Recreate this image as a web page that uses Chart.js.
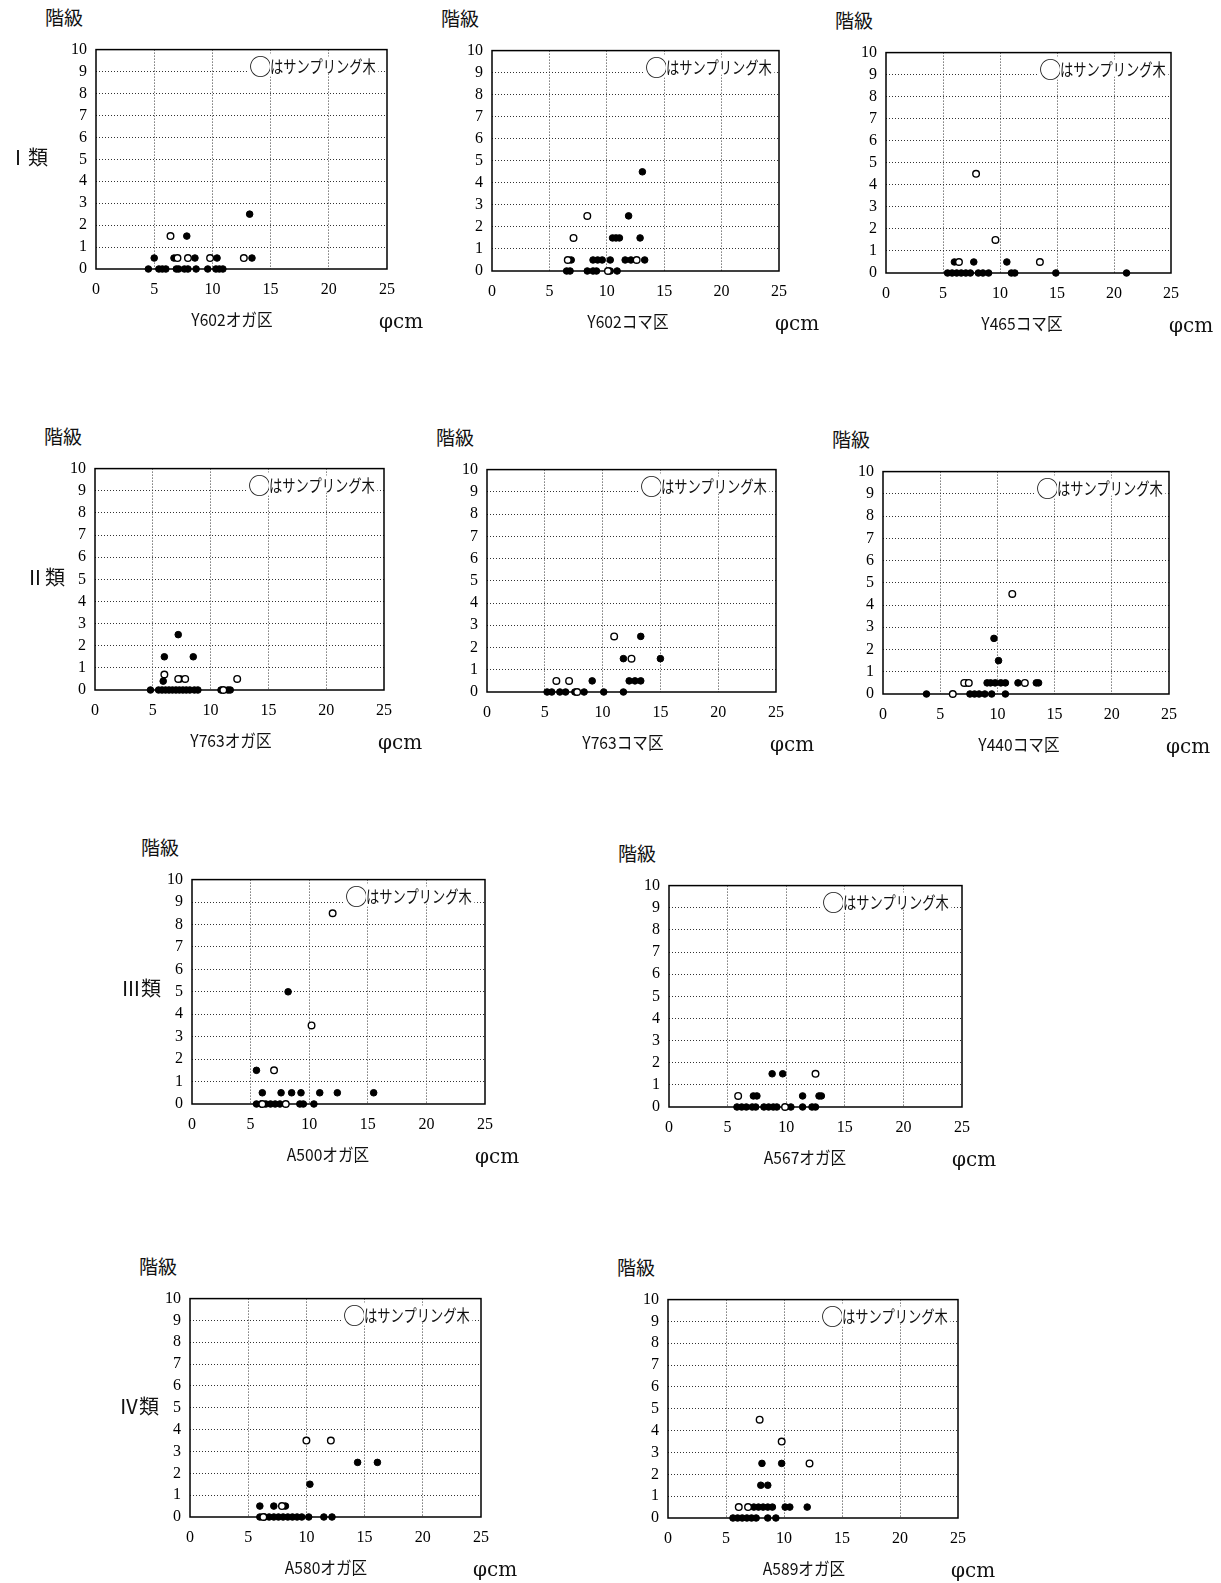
<!DOCTYPE html>
<html>
<head>
<meta charset="utf-8">
<script src="https://cdn.jsdelivr.net/npm/chart.js@4"></script>
<style>
  body { margin: 0; background: #fff; width: 1221px; height: 1583px; position: relative; overflow: hidden; }
  canvas { position: absolute; }
  .t { position: absolute; font-family: "Noto Sans CJK JP", sans-serif; color: #111; line-height: 1; white-space: nowrap; }
  .ring { background: #fff; font-size: 23px; transform: translateY(-50%); padding: 0 1px; }
  .lg { background: #fff; font-size: 17px; transform: translateY(-50%) scaleX(0.78); transform-origin: left center; padding: 0 3px 0 0; }
  .area { font-size: 17px; transform: translate(-50%, -50%) scaleX(0.92); }
  .phi { font-size: 20px; transform: translateY(-50%); font-family: "DejaVu Serif", serif; }
  .kai { font-size: 19px; }
  .cls { font-size: 20px; transform: translateY(-50%); font-family: "Noto Sans CJK JP", serif; }
</style>
</head>
<body>
<script>
// 階級 vs 直径, ● = 全木, ○ = サンプリング木
const xTicks = [0, 5, 10, 15, 20, 25];
const yTicks = [0, 1, 2, 3, 4, 5, 6, 7, 8, 9, 10];
const areaNames = ["Y602オガ区", "Y602コマ区", "Y465コマ区", "Y763オガ区", "Y763コマ区", "Y440コマ区", "A500オガ区", "A567オガ区", "A580オガ区", "A589オガ区"];
const classNames = ["Ⅰ類", "Ⅱ類", "Ⅲ類", "Ⅳ類"];

const y602oga = [[13.2,2.5],[7.8,1.5],[5.0,0.5],[6.7,0.5],[8.5,0.5],[10.4,0.5],[13.4,0.5],
  [4.5,0],[5.4,0],[5.7,0],[6.0,0],[6.9,0],[7.1,0],[7.6,0],[7.9,0],[8.6,0],[9.6,0],[10.3,0],[10.6,0],[10.9,0]];
const y602ogaS = [[6.4,1.5],[7.0,0.5],[7.9,0.5],[9.8,0.5],[12.7,0.5]];

const y602koma = [[13.1,4.5],[11.9,2.5],[10.5,1.5],[10.8,1.5],[11.1,1.5],[12.9,1.5],[6.9,0.5],[8.8,0.5],[9.2,0.5],[9.6,0.5],[10.3,0.5],[11.6,0.5],[12.1,0.5],[13.3,0.5],
  [6.5,0],[6.8,0],[8.3,0],[8.8,0],[9.1,0],[10.3,0],[10.9,0]];
const y602komaS = [[8.3,2.5],[7.1,1.5],[6.6,0.5],[12.6,0.5],[10.1,0]];

const y465koma = [[6.0,0.5],[7.7,0.5],[10.6,0.5],
  [5.4,0],[5.8,0],[6.2,0],[6.6,0],[7.0,0],[7.4,0],[8.1,0],[8.5,0],[9.0,0],[11.0,0],[11.3,0],[14.9,0],[21.1,0]];
const y465komaS = [[7.9,4.5],[9.6,1.5],[6.4,0.5],[13.5,0.5]];

const y763oga = [[7.2,2.5],[6.0,1.5],[8.5,1.5],[5.9,0.4],[7.4,0.5],
  [4.8,0],[5.5,0],[5.8,0],[6.1,0],[6.4,0],[6.7,0],[7.0,0],[7.3,0],[7.6,0],[7.9,0],[8.2,0],[8.6,0],[8.9,0],[10.9,0],[11.5,0],[11.7,0]];
const y763ogaS = [[6.0,0.7],[7.2,0.5],[7.8,0.5],[12.3,0.5],[11.1,0]];

const y763koma = [[13.3,2.5],[11.8,1.5],[15.0,1.5],[9.1,0.5],[12.3,0.5],[12.8,0.5],[13.3,0.5],
  [5.2,0],[5.6,0],[6.3,0],[6.8,0],[7.6,0],[8.4,0],[10.1,0],[11.8,0]];
const y763komaS = [[11.0,2.5],[12.5,1.5],[6.0,0.5],[7.1,0.5],[7.8,0]];

const y440koma = [[9.7,2.5],[10.1,1.5],[7.3,0.5],[9.1,0.5],[9.4,0.5],[9.8,0.5],[10.3,0.5],[10.7,0.5],[11.8,0.5],[13.4,0.5],[13.6,0.5],
  [3.8,0],[7.6,0],[8.0,0],[8.4,0],[8.9,0],[9.5,0],[10.7,0]];
const y440komaS = [[11.3,4.5],[7.1,0.5],[7.5,0.5],[12.4,0.5],[6.1,0]];

const a500oga = [[8.2,5],[5.5,1.5],[6.0,0.5],[7.6,0.5],[8.5,0.5],[9.3,0.5],[10.9,0.5],[12.4,0.5],[15.5,0.5],
  [5.5,0],[5.9,0],[6.3,0],[6.7,0],[7.1,0],[7.5,0],[9.2,0],[9.5,0],[10.4,0]];
const a500ogaS = [[12.0,8.5],[10.2,3.5],[7.0,1.5],[6.0,0],[8.0,0]];

const a567oga = [[8.8,1.5],[9.7,1.5],[7.2,0.5],[7.5,0.5],[11.4,0.5],[12.8,0.5],[13.0,0.5],
  [5.8,0],[6.2,0],[6.6,0],[7.1,0],[7.4,0],[8.1,0],[8.5,0],[8.9,0],[9.2,0],[10.4,0],[11.4,0],[12.2,0],[12.5,0]];
const a567ogaS = [[12.5,1.5],[5.9,0.5],[9.9,0]];

const a580oga = [[14.4,2.5],[16.1,2.5],[10.3,1.5],[6.0,0.5],[7.2,0.5],[8.2,0.5],
  [6.0,0],[6.4,0],[6.8,0],[7.2,0],[7.6,0],[8.0,0],[8.4,0],[8.8,0],[9.2,0],[9.6,0],[10.2,0],[11.5,0],[12.2,0]];
const a580ogaS = [[10.0,3.5],[12.1,3.5],[7.9,0.5],[6.3,0]];

const a589oga = [[8.1,2.5],[9.8,2.5],[8.0,1.5],[8.6,1.5],[7.4,0.5],[7.8,0.5],[8.2,0.5],[8.6,0.5],[9.0,0.5],[10.1,0.5],[10.5,0.5],[12.0,0.5],
  [5.6,0],[6.0,0],[6.4,0],[6.8,0],[7.2,0],[7.6,0],[8.6,0],[9.3,0]];
const a589ogaS = [[7.9,4.5],[9.8,3.5],[12.2,2.5],[6.1,0.5],[6.9,0.5]];

const allTrees = [y602oga, y602koma, y465koma, y763oga, y763koma, y440koma, a500oga, a567oga, a580oga, a589oga];
const sampleTrees = [y602ogaS, y602komaS, y465komaS, y763ogaS, y763komaS, y440komaS, a500ogaS, a567ogaS, a580ogaS, a589ogaS];

// plot area boxes: left, top, right, bottom
const boxes = [
  [96, 41, 387, 269], [492, 42, 779, 271], [886, 44, 1171, 273],
  [95, 460, 384, 690], [487, 461, 776, 692], [883, 463, 1169, 694],
  [192, 871, 485, 1104], [669, 877, 962, 1107],
  [190, 1290, 481, 1517], [668, 1291, 958, 1518]
];
const classPos = [[8, 157], [25, 577], [121, 988], [119, 1406]];

function drawFrame(c) {
  const a = c.chartArea, ctx = c.ctx;
  ctx.save();
  ctx.strokeStyle = '#000';
  ctx.lineWidth = 1.5;
  ctx.strokeRect(a.left, a.top, a.right - a.left, a.bottom - a.top);
  ctx.restore();
}
const frame = { id: 'frame', beforeDatasetsDraw: drawFrame };

function addText(cls, html, x, y) {
  const d = document.createElement('div');
  d.className = 't ' + cls;
  d.innerHTML = html;
  d.style.left = x + 'px';
  d.style.top = y + 'px';
  document.body.appendChild(d);
}

const PL = 60, PT = 10, PR = 20, PB = 40;

boxes.forEach((b, i) => {
  const [l, t, r, bt] = b;
  const cv = document.createElement('canvas');
  const w = r - l + PL + PR, h = bt - t + PT + PB;
  cv.width = w; cv.height = h;
  cv.style.left = (l - PL) + 'px';
  cv.style.top = (t - PT) + 'px';
  document.body.appendChild(cv);

  new Chart(cv, {
    type: 'scatter',
    data: {
      datasets: [
        {
          label: 'サンプリング木',
          data: sampleTrees[i].map(p => ({ x: p[0], y: p[1] })),
          backgroundColor: '#fff',
          borderColor: '#000',
          borderWidth: 1.4,
          pointRadius: 3.3,
          clip: false
        },
        {
          label: '全木',
          data: allTrees[i].map(p => ({ x: p[0], y: p[1] })),
          backgroundColor: '#000',
          borderColor: '#000',
          borderWidth: 1,
          pointRadius: 3.3,
          clip: false
        }
      ]
    },
    options: {
      responsive: false,
      animation: false,
      devicePixelRatio: 1,
      layout: { padding: { top: PT, right: PR, left: 0, bottom: 0 } },
      plugins: { legend: { display: false }, tooltip: { enabled: false } },
      scales: {
        x: {
          type: 'linear', min: 0, max: 25,
          afterFit: s => { s.height = PB; },
          afterBuildTicks: s => { s.ticks = xTicks.map(v => ({ value: v })); },
          grid: {
            drawTicks: false,
            color: c => (c.tick && (c.tick.value === 0 || c.tick.value === 25)) ? 'rgba(0,0,0,0)' : '#333',
            lineWidth: 1
          },
          border: { display: false, dash: [1, 2] },
          ticks: { autoSkip: false, padding: 11, color: '#000', font: { family: 'Liberation Serif', size: 16 }, maxRotation: 0 }
        },
        y: {
          type: 'linear', min: 0, max: 10,
          afterFit: s => { s.width = PL; },
          afterBuildTicks: s => { s.ticks = yTicks.map(v => ({ value: v })); },
          grid: {
            drawTicks: false,
            color: c => (c.tick && (c.tick.value === 0 || c.tick.value === 10)) ? 'rgba(0,0,0,0)' : '#333',
            lineWidth: 1
          },
          border: { display: false, dash: [1, 2] },
          ticks: { autoSkip: false, padding: 9, color: '#000', font: { family: 'Liberation Serif', size: 16 } }
        }
      }
    },
    plugins: [frame]
  });

  addText('kai', '階級', l - 51, t - 34);
  addText('ring', '○', l + 152, t + 24);
  addText('lg', 'はサンプリング木', l + 174, t + 24);
  addText('area', areaNames[i], l + 136, bt + 49);
  addText('phi', 'φcm', l + 283, bt + 52);
});

classNames.forEach((n, i) => addText('cls', n, classPos[i][0], classPos[i][1]));
</script>
</body>
</html>
